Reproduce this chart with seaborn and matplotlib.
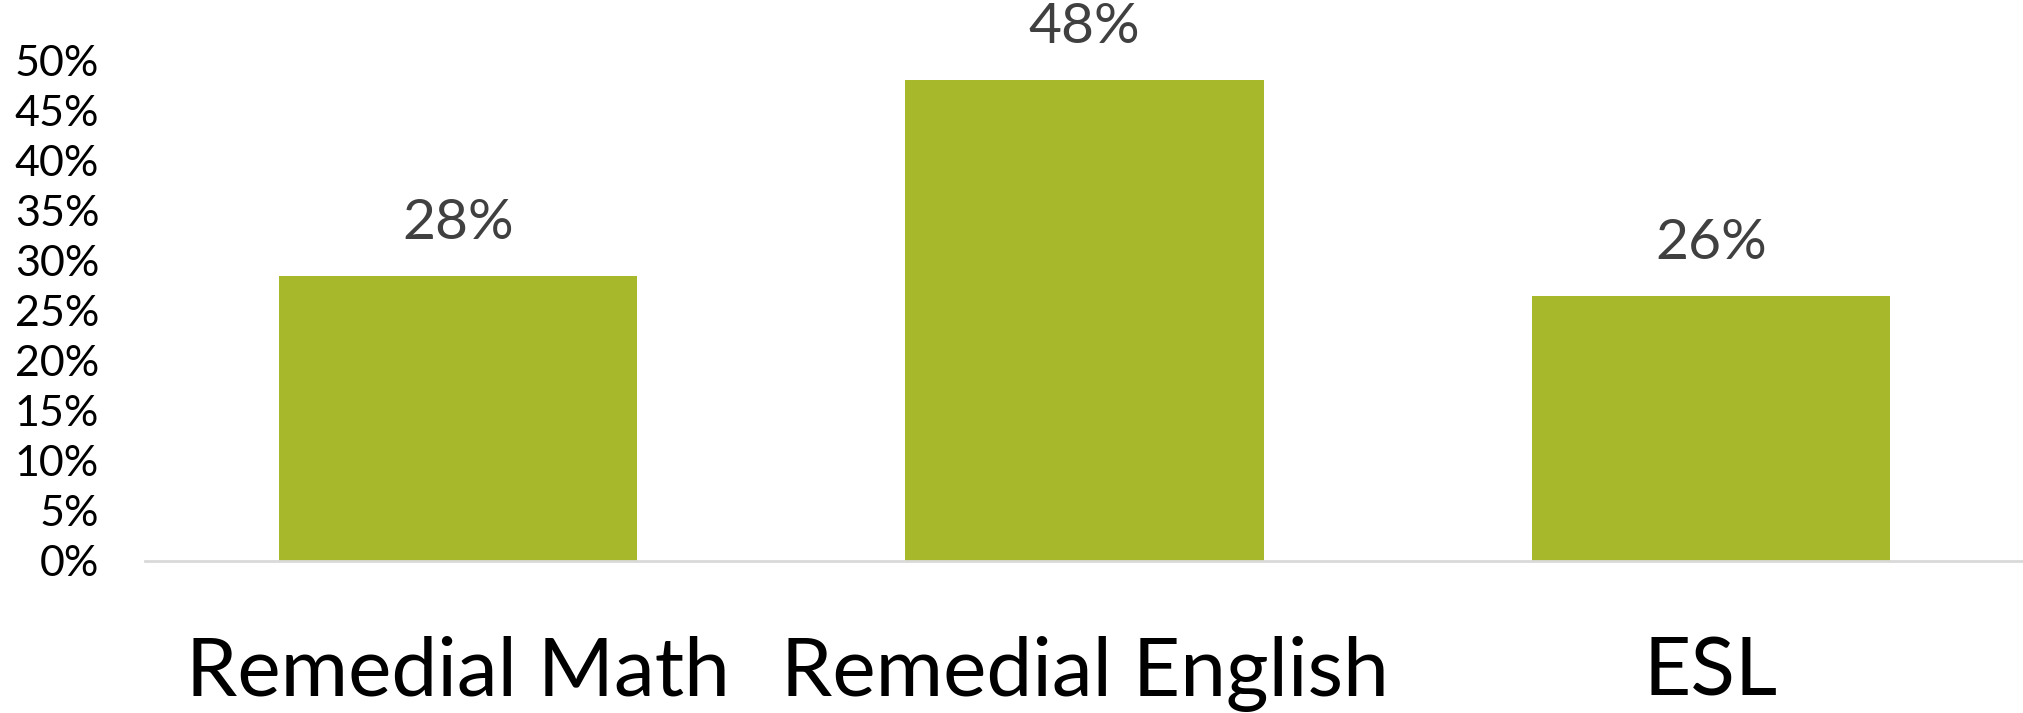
import matplotlib
matplotlib.use("Agg")
import matplotlib.pyplot as plt
import seaborn as sns
import pandas as pd
from matplotlib.ticker import PercentFormatter, MultipleLocator

categories = ["Remedial Math", "Remedial English", "ESL"]
values = [0.284, 0.48, 0.264]
value_labels = ["28%", "48%", "26%"]

sns.set_theme(style="white")
plt.rcParams['font.family'] = ['Lato', 'DejaVu Sans']

df = pd.DataFrame({"category": categories, "value": values})

fig = plt.figure(figsize=(20.24, 7.13), dpi=100)
ax = fig.add_axes([145/2024, 152/713, 1 - 145/2024, (561-60)/713])

sns.barplot(data=df, x="category", y="value", color="#A7B82A", saturation=1,
            width=0.572, ax=ax, edgecolor="none")

ax.set_xlim(-0.5, 2.5)
ax.set_ylim(0, 0.5)
ax.yaxis.set_major_locator(MultipleLocator(0.05))
ax.yaxis.set_major_formatter(PercentFormatter(1.0, decimals=0))
ax.set_xlabel("")
ax.set_ylabel("")

for s in ["top", "right", "left"]:
    ax.spines[s].set_visible(False)
ax.spines["bottom"].set_color("#D9D9D9")
ax.spines["bottom"].set_linewidth(2)

ax.tick_params(axis="y", length=0, pad=33, labelsize=31, labelcolor="black")
ax.tick_params(axis="x", length=0, pad=54, labelsize=59, labelcolor="black")

for i, (v, lab) in enumerate(zip(values, value_labels)):
    ax.annotate(lab, xy=(i, v), xytext=(0, 27), textcoords="offset points",
                ha="center", va="baseline", fontsize=41, color="#404040",
                annotation_clip=False)

fig.savefig("out.png", dpi=100, facecolor="white")
